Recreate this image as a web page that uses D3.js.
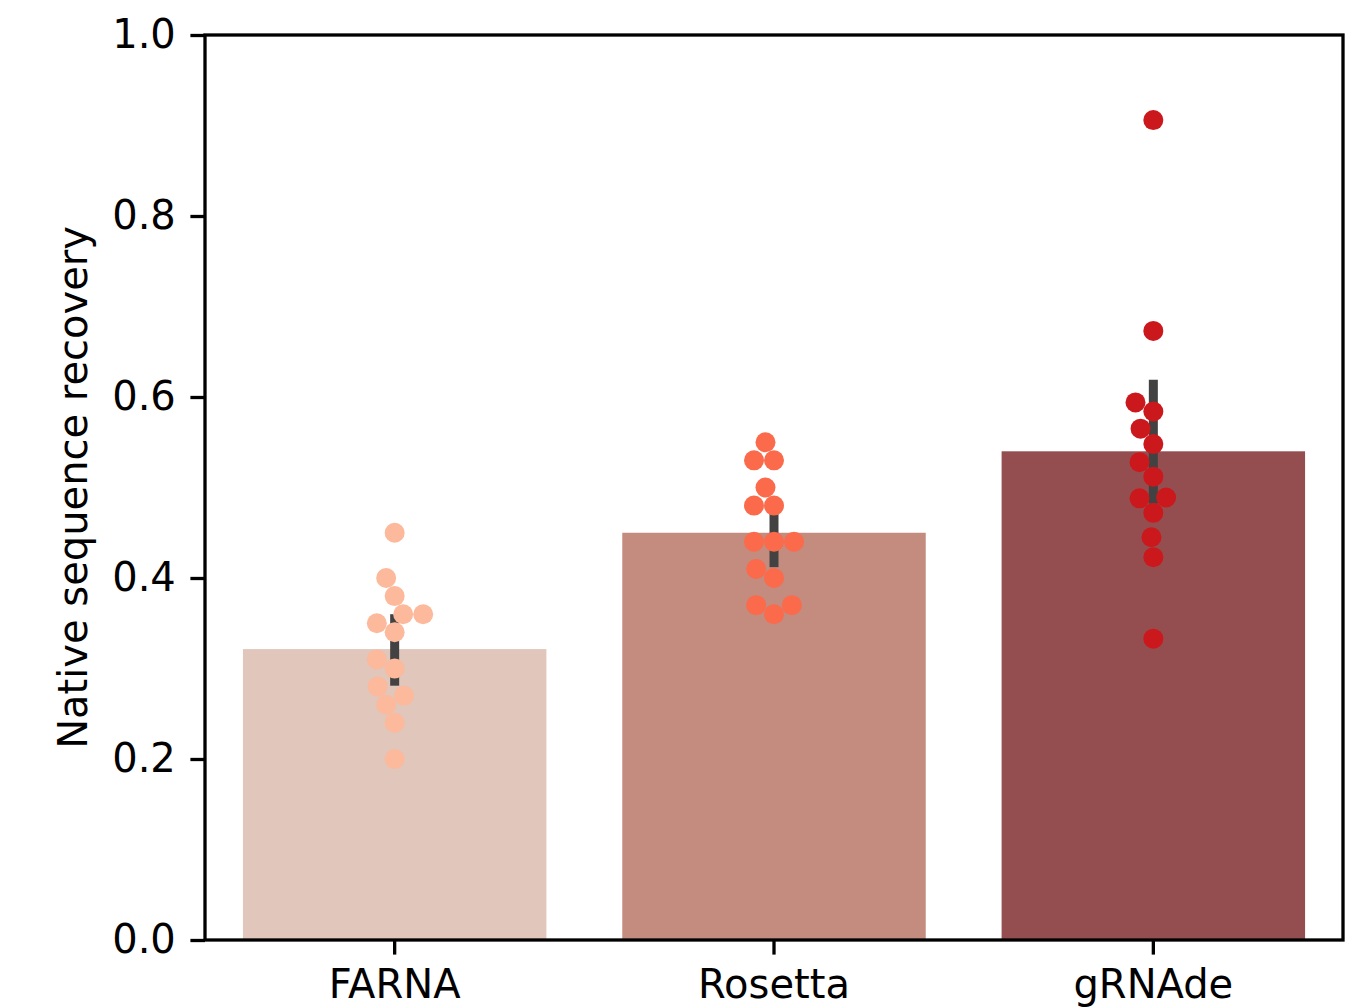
<!DOCTYPE html>
<html>
<head>
<meta charset="utf-8">
<title>Native sequence recovery</title>
<script src="https://cdn.jsdelivr.net/npm/d3@7"></script>
<style>
  body { margin: 0; background: #fff; }
  text { font-family: "DejaVu Sans", sans-serif; fill: #000; }
</style>
</head>
<body>
<script>
// chart values
var methods = ["FARNA", "Rosetta", "gRNAde"];
var farna   = [0.45, 0.40, 0.38, 0.36, 0.36, 0.35, 0.34, 0.31, 0.30, 0.28, 0.27, 0.26, 0.24, 0.20];
var rosetta = [0.55, 0.53, 0.53, 0.50, 0.48, 0.48, 0.44, 0.44, 0.44, 0.41, 0.40, 0.37, 0.37, 0.36];
var grnade  = [0.906, 0.673, 0.594, 0.584, 0.565, 0.548, 0.528, 0.512, 0.488, 0.489, 0.472, 0.445, 0.423, 0.333];
var ciLow   = [0.281, 0.412, 0.482];
var ciHigh  = [0.360, 0.487, 0.619];
var yTicks  = [0.0, 0.2, 0.4, 0.6, 0.8, 1.0];

var barColors = ["#e0c6bb", "#c48b7f", "#954e50"];
var dotColors = ["#fcb99b", "#fb6a4a", "#cb181d"];

var width = 1358, height = 1008,
    margin = {left: 205, right: 15, top: 35, bottom: 68},
    dotR = 10,
    fontSize = 40;

var samples = [farna, rosetta, grnade];

var x = d3.scaleBand()
    .domain(methods)
    .range([margin.left, width - margin.right])
    .paddingInner(0.2)
    .paddingOuter(0.1);

var y = d3.scaleLinear()
    .domain([0, 1])
    .range([height - margin.bottom, margin.top]);

var svg = d3.select("body").append("svg")
    .attr("width", width)
    .attr("height", height);

// bars (mean)
svg.append("g").selectAll("rect")
    .data(methods)
  .enter().append("rect")
    .attr("x", function(d){ return x(d); })
    .attr("width", x.bandwidth())
    .attr("y", function(d, i){ return y(d3.mean(samples[i])); })
    .attr("height", function(d, i){ return y(0) - y(d3.mean(samples[i])); })
    .attr("fill", function(d, i){ return barColors[i]; });

// error bars
svg.append("g").selectAll("line")
    .data(methods)
  .enter().append("line")
    .attr("x1", function(d){ return x(d) + x.bandwidth() / 2; })
    .attr("x2", function(d){ return x(d) + x.bandwidth() / 2; })
    .attr("y1", function(d, i){ return y(ciLow[i]); })
    .attr("y2", function(d, i){ return y(ciHigh[i]); })
    .attr("stroke", "#424242")
    .attr("stroke-width", 9);

// simple beeswarm, like seaborn's swarmplot
function swarm(values, cx){
    var d = dotR * 2;
    var pts = values.map(function(v){ return {v: v, py: y(v), dx: 0}; })
        .sort(function(a, b){ return b.py - a.py; });
    var placed = [];
    pts.forEach(function(p){
        var near = placed.filter(function(q){ return Math.abs(q.py - p.py) < d; });
        var cands = [0];
        near.forEach(function(q){
            var off = Math.sqrt(d * d - (q.py - p.py) * (q.py - p.py));
            cands.push(q.dx - off);
            cands.push(q.dx + off);
        });
        cands = cands.map(function(c, k){ return {c: c, k: k}; })
            .sort(function(a, b){ return Math.abs(a.c) - Math.abs(b.c) || a.k - b.k; });
        for (var k = 0; k < cands.length; k++){
            var c = cands[k].c;
            var ok = near.every(function(q){
                var ddx = q.dx - c, ddy = q.py - p.py;
                return ddx * ddx + ddy * ddy >= d * d - 0.01;
            });
            if (ok){ p.dx = c; break; }
        }
        placed.push(p);
    });
    return pts.map(function(p){ return {cx: cx + p.dx, cy: p.py}; });
}

methods.forEach(function(m, i){
    var cx = x(m) + x.bandwidth() / 2;
    svg.append("g").selectAll("circle")
        .data(swarm(samples[i], cx))
      .enter().append("circle")
        .attr("cx", function(d){ return d.cx; })
        .attr("cy", function(d){ return d.cy; })
        .attr("r", dotR)
        .attr("fill", dotColors[i]);
});

// axes
var yAxis = d3.axisLeft(y)
    .tickValues(yTicks)
    .tickFormat(d3.format(".1f"))
    .tickSize(14.6)
    .tickPadding(14.6);

var xAxis = d3.axisBottom(x)
    .tickSize(14.6)
    .tickPadding(14.6);

var gy = svg.append("g")
    .attr("transform", "translate(" + margin.left + ",0)")
    .call(yAxis);

var gx = svg.append("g")
    .attr("transform", "translate(0," + (height - margin.bottom) + ")")
    .call(xAxis);

[gx, gy].forEach(function(g){
    g.select(".domain").remove();
    g.selectAll(".tick line").attr("stroke", "#000").attr("stroke-width", 3.3);
    g.selectAll(".tick text").attr("font-size", fontSize).attr("font-family", "DejaVu Sans").attr("fill", "#000");
});

// frame
svg.append("rect")
    .attr("x", margin.left)
    .attr("y", margin.top)
    .attr("width", width - margin.left - margin.right)
    .attr("height", height - margin.top - margin.bottom)
    .attr("fill", "none")
    .attr("stroke", "#000")
    .attr("stroke-width", 3.3);

svg.append("text")
    .attr("transform", "translate(87," + ((margin.top + height - margin.bottom) / 2) + ") rotate(-90)")
    .attr("text-anchor", "middle")
    .attr("font-size", fontSize)
    .text("Native sequence recovery");
</script>
</body>
</html>
